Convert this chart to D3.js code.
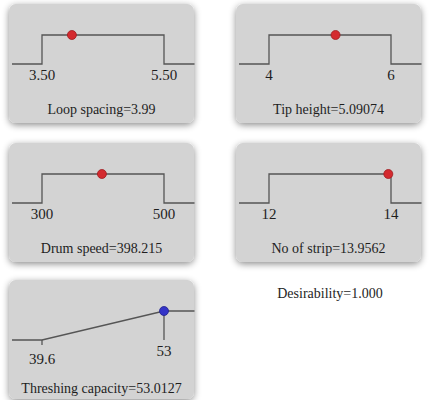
<!DOCTYPE html>
<html>
<head>
<meta charset="utf-8">
<script src="https://cdn.jsdelivr.net/npm/d3@7"></script>
<style>
  body { margin: 0; background: #fff; }
  text { font-family: "Liberation Serif", "Times New Roman", serif; fill: #1e1e1e; }
</style>
</head>
<body>
<svg width="431" height="400"></svg>
<script>
// factors and their optimisation settings
var factors    = ["Loop spacing", "Tip height", "Drum speed", "No of strip", "Threshing capacity"]
var lows       = [3.5, 4, 300, 12, 39.6]
var highs      = [5.5, 6, 500, 14, 53]
var lowLabels  = ["3.50", "4", "300", "12", "39.6"]
var highLabels = ["5.50", "6", "500", "14", "53"]
var goals      = ["range", "range", "range", "range", "maximize"]
var optimum    = [3.99, 5.09074, 398.215, 13.9562, 53.0127]
var optLabels  = ["3.99", "5.09074", "398.215", "13.9562", "53.0127"]
var desirability = "1.000"

var svg = d3.select("svg")

// panel layout
var panelW = 185, panelH = 119
var colX = [9, 236]
var rowY = [4, 143, 280]

var defs = svg.append("defs")
var filter = defs.append("filter").attr("id", "shadow")
    .attr("x", "-20%").attr("y", "-20%").attr("width", "140%").attr("height", "140%")
filter.append("feDropShadow")
    .attr("dx", 0).attr("dy", 2)
    .attr("stdDeviation", 3.5)
    .attr("flood-color", "#000")
    .attr("flood-opacity", 0.45)

// desirability scale (same for every panel)
var y = d3.scaleLinear().domain([0, 1]).range([60, 31])

factors.forEach(function(name, i) {
  var px = colX[i % 2], py = rowY[Math.floor(i / 2)]
  var g = svg.append("g").attr("transform", "translate(" + px + "," + py + ")")

  g.append("rect")
    .attr("width", panelW).attr("height", panelH)
    .attr("rx", 7).attr("ry", 7)
    .attr("fill", "#d3d3d3")
    .attr("filter", "url(#shadow)")

  var x = d3.scaleLinear()
    .domain([lows[i], highs[i]])
    .range([33, 155])
    .clamp(true)

  // desirability function
  var pts
  if (goals[i] == "range") {
    pts = [[x.range()[0] - 30, 0], [lows[i], 0], [lows[i], 1], [highs[i], 1], [highs[i], 0], [panelW + 0.5, 0]]
  } else {
    pts = [[x.range()[0] - 30, 0], [lows[i], 0], [highs[i], 1], [panelW + 0.5, 1]]
  }
  var line = d3.line()
    .x(function(d, j) { return (j == 0 || j == pts.length - 1) ? d[0] : x(d[0]) })
    .y(function(d) { return y(d[1]) })
  g.append("path")
    .datum(pts)
    .attr("d", line)
    .attr("fill", "none")
    .attr("stroke", "#555")
    .attr("stroke-width", 1.3)

  var lowY = 76, highY = 76
  if (goals[i] == "maximize") {
    // small ticks under the ramp ends
    g.append("line")
      .attr("x1", x(lows[i])).attr("x2", x(lows[i]))
      .attr("y1", y(0)).attr("y2", y(0) + 5)
      .attr("stroke", "#555").attr("stroke-width", 1.3)
    g.append("line")
      .attr("x1", x(highs[i])).attr("x2", x(highs[i]))
      .attr("y1", y(1)).attr("y2", y(0))
      .attr("stroke", "#555").attr("stroke-width", 1.3)
    lowY = 84
  }

  g.append("text")
    .attr("x", x(lows[i])).attr("y", lowY)
    .attr("text-anchor", "middle")
    .style("font-size", "15px")
    .text(lowLabels[i])
  g.append("text")
    .attr("x", x(highs[i])).attr("y", highY)
    .attr("text-anchor", "middle")
    .style("font-size", "15px")
    .text(highLabels[i])

  // optimum point
  var d = goals[i] == "range" ? 1 : Math.min(1, (optimum[i] - lows[i]) / (highs[i] - lows[i]))
  g.append("circle")
    .attr("cx", x(optimum[i]))
    .attr("cy", y(d))
    .attr("r", 4.5)
    .attr("fill", goals[i] == "range" ? "#d42a2f" : "#3434c8")
    .attr("stroke", goals[i] == "range" ? "#9e1c20" : "#22228a")
    .attr("stroke-width", 0.8)

  g.append("text")
    .attr("x", panelW / 2).attr("y", goals[i] == "range" ? 110 : 113)
    .attr("text-anchor", "middle")
    .style("font-size", "14px")
    .text(name + "=" + optLabels[i])
})

svg.append("text")
  .attr("x", 330).attr("y", 298)
  .attr("text-anchor", "middle")
  .style("font-size", "14px")
  .text("Desirability=" + desirability)
</script>
</body>
</html>
